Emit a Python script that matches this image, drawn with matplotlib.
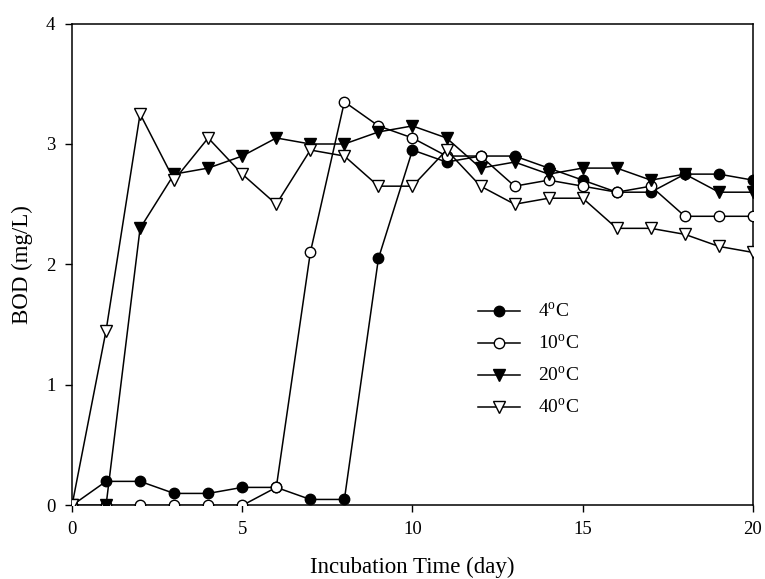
import matplotlib
matplotlib.use("Agg")
import matplotlib.pyplot as plt

plt.rcParams['font.family'] = ['Liberation Serif', 'DejaVu Serif']
plt.rcParams['mathtext.fontset'] = 'custom'
plt.rcParams['mathtext.rm'] = 'Liberation Serif'

days = list(range(0, 21))
bod_4c = [0, 0.2, 0.2, 0.1, 0.1, 0.15, 0.15, 0.05, 0.05, 2.05, 2.95, 2.85, 2.9, 2.9, 2.8, 2.7, 2.6, 2.6, 2.75, 2.75, 2.7]
bod_10c = [0, 0, 0, 0, 0, 0, 0.15, 2.1, 3.35, 3.15, 3.05, 2.9, 2.9, 2.65, 2.7, 2.65, 2.6, 2.65, 2.4, 2.4, 2.4]
bod_20c = [0, 0, 2.3, 2.75, 2.8, 2.9, 3.05, 3.0, 3.0, 3.1, 3.15, 3.05, 2.8, 2.85, 2.75, 2.8, 2.8, 2.7, 2.75, 2.6, 2.6]
bod_40c = [0, 1.45, 3.25, 2.7, 3.05, 2.75, 2.5, 2.95, 2.9, 2.65, 2.65, 2.95, 2.65, 2.5, 2.55, 2.55, 2.3, 2.3, 2.25, 2.15, 2.1]
labels = ['4$^{\\mathrm{o}}$C', '10$^{\\mathrm{o}}$C', '20$^{\\mathrm{o}}$C', '40$^{\\mathrm{o}}$C']

fig = plt.figure(figsize=(7.65, 5.79), dpi=100)
ax = fig.add_axes([0.0941, 0.1270, 0.8902, 0.8324])

lw = 1.1
ms = 7.5
ax.plot(days, bod_4c, '-o', color='black', mfc='black', mec='black', lw=lw, ms=ms, label=labels[0], zorder=3)
ax.plot(days, bod_10c, '-o', color='black', mfc='white', mec='black', lw=lw, ms=ms, label=labels[1], zorder=3)
ax.plot(days, bod_20c, '-v', color='black', mfc='black', mec='black', lw=lw, ms=ms + 1, label=labels[2], zorder=3)
ax.plot(days, bod_40c, '-v', color='black', mfc='white', mec='black', lw=lw, ms=ms + 1, label=labels[3], zorder=3)

ax.set_xlim(0, 20)
ax.set_ylim(0, 4)
ax.set_xticks([0, 5, 10, 15, 20])
ax.set_yticks([0, 1, 2, 3, 4])
ax.tick_params(direction='out', length=5, width=1, labelsize=13.5, top=False, right=False)
ax.tick_params(axis='x', pad=6)
ax.tick_params(axis='y', pad=7)
for s in ax.spines.values():
    s.set_linewidth(1.1)

ax.set_xlabel('Incubation Time (day)', fontsize=16.5, labelpad=14)
ax.set_ylabel('BOD (mg/L)', fontsize=16.5, labelpad=9)

leg = ax.legend(loc='upper left', bbox_to_anchor=(0.57, 0.458), frameon=False,
                fontsize=14, handlelength=2.2, labelspacing=0.65, handletextpad=0.9)

fig.savefig('out.png', dpi=100)
